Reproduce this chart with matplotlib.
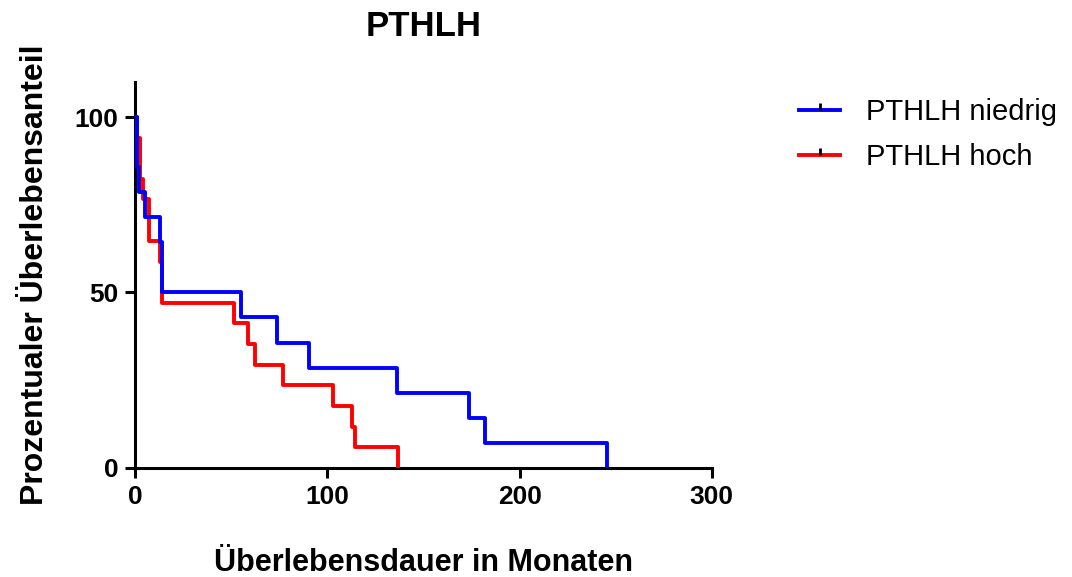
import matplotlib
matplotlib.use("Agg")
import matplotlib.pyplot as plt
from matplotlib.lines import Line2D

# Kaplan-Meier steps (months, percent surviving)
niedrig_t = [0, 1, 2, 5, 13, 14, 55, 74, 90.5, 136, 173.5, 182, 245.5]
niedrig_s = [100, 85.7, 78.6, 71.4, 64.3, 50, 42.9, 35.7, 28.6, 21.4, 14.3, 7.1, 0]

hoch_t = [0, 1, 2.6, 4, 7.4, 13, 14, 51.5, 59, 62.5, 77, 103, 113, 114.5, 137]
hoch_s = [100, 94.1, 82.4, 76.5, 64.7, 58.8, 47.1, 41.2, 35.3, 29.4, 23.5, 17.6, 11.8, 5.9, 0]

labels = ["PTHLH niedrig", "PTHLH hoch"]
colors = ["blue", "red"]
xticks = [0, 100, 200, 300]
yticks = [0, 50, 100]

plt.rcParams["font.family"] = ["Liberation Sans", "DejaVu Sans"]

fig = plt.figure(figsize=(10.72, 5.77), dpi=100)
ax = fig.add_axes([0.126, 0.189, 0.538, 0.669])

ax.step(hoch_t, hoch_s, where="post", color=colors[1], lw=2.8, zorder=3)
ax.step(niedrig_t, niedrig_s, where="post", color=colors[0], lw=2.8, zorder=4)

ax.set_xlim(0, 300)
ax.set_ylim(0, 110)
ax.set_xticks(xticks)
ax.set_yticks(yticks)
ax.tick_params(width=2.2, length=7, labelsize=19, pad=5)
for lab in ax.get_xticklabels() + ax.get_yticklabels():
    lab.set_fontweight("bold")
for s in ["top", "right"]:
    ax.spines[s].set_visible(False)
for s in ["left", "bottom"]:
    ax.spines[s].set_linewidth(2.2)

ax.set_title("PTHLH", fontsize=25, fontweight="bold", pad=33)
ax.set_xlabel("Überlebensdauer in Monaten", fontsize=22, fontweight="bold", labelpad=28)
ax.set_ylabel("Prozentualer Überlebensanteil", fontsize=23, fontweight="bold", labelpad=18)

handles = [Line2D([], [], color=c, lw=2.8, marker=2, markersize=5,
                  markeredgecolor="black", markeredgewidth=2) for c in colors]
fig.legend(handles, labels, loc="upper left", bbox_to_anchor=(0.721, 0.876),
           frameon=False, fontsize=21, numpoints=1, handlelength=1.4,
           handletextpad=0.9, labelspacing=0.6)

fig.savefig("out.png", dpi=100)
